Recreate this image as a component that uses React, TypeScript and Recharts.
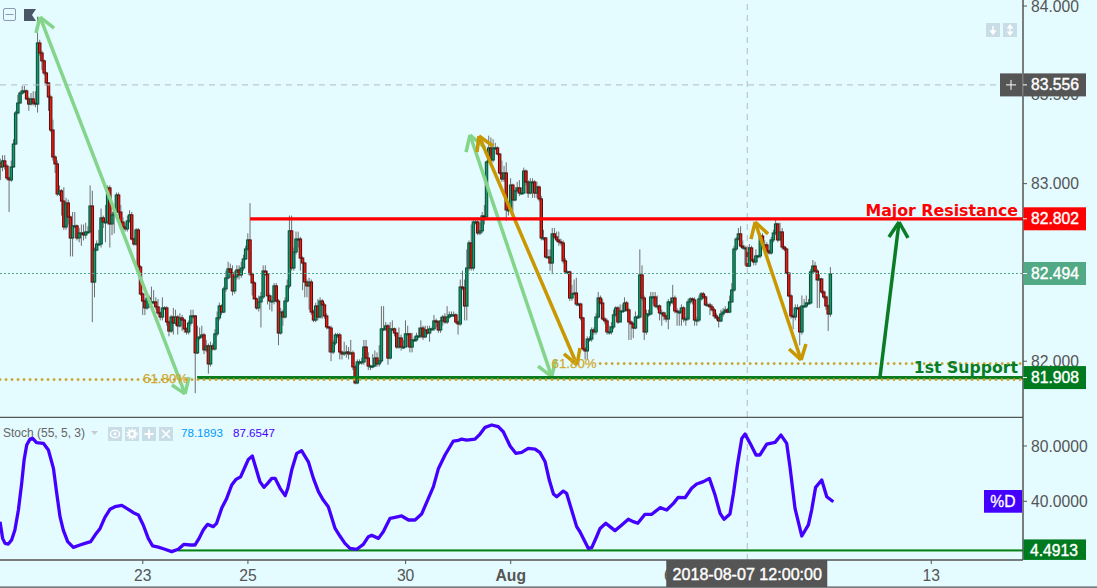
import React from "react";
import { ComposedChart, Bar, Line, XAxis, YAxis, ReferenceLine } from "recharts";

// Hourly trading bars, index 0 is the first visible hour.
const firstOpen = 83.116;
const closes = [
83.094,83.128,83.099,83.032,83.021,83.094,83.223,83.398,83.454,83.510,83.522,83.522,83.477,83.448,83.477,83.454,83.448,83.792,83.736,83.691,
83.623,83.567,83.488,83.302,83.150,83.111,82.942,82.959,82.902,82.756,82.891,82.812,82.694,82.762,82.762,82.694,82.722,82.722,82.711,82.728,
82.728,82.874,82.446,82.626,82.660,82.660,82.807,82.784,82.784,82.976,82.773,82.824,82.840,82.936,82.840,82.784,82.756,82.745,82.790,82.824,
82.688,82.660,82.739,82.531,82.379,82.339,82.300,82.356,82.334,82.334,82.334,82.306,82.272,82.249,82.300,82.300,82.221,82.170,82.249,82.215,
82.249,82.199,82.244,82.232,82.182,82.165,82.215,82.255,82.255,82.047,82.131,82.137,82.148,82.064,82.086,81.985,82.086,82.069,82.154,82.244,
82.311,82.277,82.407,82.469,82.520,82.497,82.396,82.475,82.514,82.486,82.525,82.576,82.632,82.683,82.491,82.441,82.351,82.300,82.334,82.362,
82.508,82.491,82.368,82.339,82.339,82.424,82.339,82.159,82.277,82.249,82.339,82.424,82.734,82.525,82.615,82.688,82.688,82.581,82.553,82.446,
82.424,82.446,82.277,82.232,82.311,82.249,82.339,82.317,82.255,82.193,82.187,82.052,82.103,82.148,82.148,82.052,82.041,82.047,82.052,82.041,
82.047,81.968,81.878,81.996,81.996,81.996,82.080,82.018,81.973,81.973,81.973,82.018,81.985,82.002,82.182,82.182,82.199,82.018,82.182,82.182,
82.159,82.080,82.131,82.080,82.080,82.154,82.154,82.080,82.120,82.120,82.142,82.142,82.187,82.137,82.176,82.159,82.182,82.182,82.227,82.221,
82.176,82.227,82.249,82.221,82.249,82.261,82.261,82.261,82.221,82.210,82.418,82.413,82.311,82.525,82.666,82.525,82.784,82.784,82.722,82.734,
82.818,82.812,83.122,83.201,83.133,83.201,83.201,83.167,83.060,83.026,83.060,82.852,82.852,82.992,82.908,82.959,82.976,82.947,82.947,83.071,
83.009,82.947,83.009,83.009,82.947,82.981,82.914,82.694,82.694,82.587,82.587,82.553,82.717,82.700,82.683,82.672,82.666,82.565,82.503,82.503,
82.356,82.379,82.384,82.322,82.322,82.244,82.069,82.058,82.125,82.125,82.176,82.165,82.249,82.356,82.328,82.238,82.227,82.165,82.165,82.193,
82.261,82.300,82.221,82.283,82.283,82.328,82.289,82.221,82.210,82.187,82.249,82.249,82.486,82.356,82.165,82.266,82.266,82.362,82.362,82.311,
82.311,82.272,82.272,82.255,82.238,82.334,82.334,82.356,82.283,82.277,82.277,82.300,82.238,82.238,82.334,82.351,82.345,82.232,82.232,82.351,
82.379,82.362,82.317,82.317,82.306,82.289,82.255,82.244,82.227,82.266,82.277,82.289,82.277,82.334,82.401,82.632,82.688,82.717,82.649,82.638,
82.638,82.536,82.638,82.570,82.559,82.593,82.593,82.705,82.655,82.655,82.621,82.610,82.683,82.722,82.773,82.683,82.728,82.643,82.632,82.497,
82.368,82.255,82.249,82.300,82.300,82.165,82.311,82.311,82.328,82.328,82.503,82.536,82.508,82.458,82.463,82.390,82.362,82.311,82.266,82.491,
];
const highs = [
83.14,83.16,83.16,83.11,83.04,83.13,83.25,83.41,83.50,83.52,83.55,83.55,83.53,83.49,83.51,83.52,83.52,83.94,83.81,83.75,
83.70,83.63,83.57,83.50,83.36,83.16,83.13,82.99,82.97,82.98,82.92,82.91,82.82,82.84,82.84,82.77,82.75,82.77,82.77,82.78,
82.76,82.99,82.96,82.64,82.68,82.74,82.86,82.82,82.88,82.99,82.99,82.84,82.86,82.95,82.95,82.88,82.81,82.78,82.82,82.85,
82.84,82.70,82.75,82.75,82.54,82.39,82.35,82.37,82.37,82.42,82.40,82.36,82.35,82.28,82.36,82.31,82.31,82.23,82.26,82.30,
82.29,82.26,82.27,82.26,82.24,82.19,82.23,82.29,82.29,82.26,82.20,82.19,82.20,82.16,82.12,82.10,82.11,82.10,82.18,82.28,
82.33,82.32,82.42,82.51,82.56,82.55,82.54,82.51,82.54,82.54,82.56,82.60,82.65,82.72,82.89,82.50,82.45,82.36,82.37,82.39,
82.54,82.54,82.51,82.38,82.37,82.44,82.44,82.35,82.30,82.29,82.36,82.46,82.82,82.82,82.64,82.73,82.73,82.70,82.59,82.56,
82.46,82.47,82.46,82.29,82.33,82.35,82.36,82.35,82.33,82.27,82.20,82.20,82.12,82.16,82.16,82.16,82.06,82.11,82.09,82.08,
82.12,82.06,81.98,82.01,82.01,82.02,82.12,82.12,82.05,81.98,82.04,82.06,82.05,82.09,82.31,82.31,82.22,82.21,82.22,82.23,
82.19,82.16,82.19,82.15,82.12,82.23,82.20,82.16,82.16,82.14,82.16,82.19,82.23,82.20,82.20,82.20,82.20,82.19,82.26,82.24,
82.23,82.25,82.26,82.27,82.31,82.28,82.28,82.28,82.27,82.23,82.46,82.51,82.46,82.63,82.68,82.77,82.80,82.80,82.81,82.78,
82.84,82.88,83.13,83.27,83.26,83.25,83.23,83.21,83.17,83.13,83.10,83.12,82.88,83.03,83.00,82.98,83.01,83.02,82.98,83.09,
83.08,83.02,83.03,83.03,83.02,83.01,82.99,82.93,82.74,82.70,82.63,82.63,82.75,82.75,82.73,82.73,82.69,82.68,82.58,82.51,
82.51,82.43,82.46,82.47,82.33,82.33,82.25,82.08,82.14,82.14,82.19,82.19,82.27,82.39,82.37,82.35,82.25,82.24,82.20,82.22,
82.29,82.31,82.31,82.32,82.32,82.36,82.34,82.30,82.23,82.22,82.28,82.26,82.63,82.54,82.37,82.29,82.29,82.39,82.39,82.39,
82.37,82.32,82.29,82.28,82.26,82.35,82.36,82.43,82.37,82.30,82.29,82.32,82.31,82.25,82.35,82.36,82.36,82.36,82.25,82.37,
82.39,82.39,82.37,82.33,82.33,82.32,82.30,82.27,82.25,82.29,82.30,82.31,82.30,82.37,82.44,82.65,82.70,82.75,82.76,82.68,
82.65,82.65,82.66,82.65,82.58,82.63,82.60,82.72,82.72,82.68,82.67,82.63,82.70,82.74,82.80,82.78,82.78,82.75,82.65,82.64,
82.50,82.38,82.27,82.32,82.32,82.31,82.37,82.35,82.37,82.35,82.52,82.57,82.56,82.52,82.49,82.47,82.40,82.37,82.32,82.53,
];
const lows = [
83.02,83.07,83.08,83.02,82.84,83.01,83.09,83.22,83.39,83.45,83.50,83.51,83.47,83.41,83.44,83.44,83.43,83.40,83.72,83.64,
83.61,83.55,83.41,83.29,83.13,83.06,82.93,82.93,82.82,82.74,82.74,82.77,82.59,82.59,82.75,82.68,82.67,82.65,82.68,82.69,
82.72,82.73,82.22,82.36,82.62,82.65,82.64,82.75,82.67,82.77,82.64,82.71,82.72,82.83,82.82,82.77,82.74,82.73,82.73,82.78,
82.68,82.65,82.65,82.51,82.37,82.26,82.26,82.29,82.30,82.32,82.32,82.29,82.26,82.23,82.23,82.29,82.20,82.14,82.16,82.15,
82.20,82.15,82.19,82.17,82.16,82.15,82.15,82.20,82.24,81.82,82.04,82.12,82.13,82.04,82.05,81.93,81.97,82.06,82.06,82.14,
82.23,82.26,82.27,82.39,82.46,82.47,82.37,82.38,82.46,82.46,82.47,82.51,82.57,82.62,82.48,82.37,82.35,82.29,82.28,82.19,
82.35,82.48,82.32,82.29,82.28,82.32,82.33,82.09,82.15,82.20,82.24,82.33,82.41,82.51,82.51,82.60,82.64,82.51,82.40,82.36,
82.36,82.29,82.26,82.22,82.22,82.23,82.24,82.24,82.24,82.18,82.05,82.00,82.04,82.09,82.13,82.01,82.01,82.03,82.02,82.01,
82.04,81.95,81.87,81.87,81.98,81.98,81.98,82.01,81.95,81.95,81.96,81.97,81.97,81.97,81.99,82.17,82.17,81.98,82.01,82.17,
82.14,82.07,82.07,82.06,82.07,82.08,82.08,82.05,82.05,82.11,82.11,82.13,82.13,82.12,82.13,82.15,82.11,82.17,82.17,82.19,
82.16,82.16,82.20,82.21,82.21,82.24,82.25,82.25,82.21,82.15,82.20,82.40,82.23,82.23,82.51,82.51,82.51,82.77,82.71,82.71,
82.72,82.77,82.81,83.12,83.12,83.12,83.19,83.16,83.05,83.01,83.01,82.79,82.82,82.84,82.82,82.90,82.95,82.93,82.94,82.94,
82.99,82.92,82.94,82.92,82.92,82.92,82.90,82.68,82.68,82.58,82.58,82.51,82.49,82.69,82.67,82.65,82.65,82.55,82.49,82.49,
82.34,82.34,82.37,82.31,82.31,82.23,82.06,82.01,82.01,82.11,82.11,82.15,82.15,82.24,82.32,82.23,82.21,82.15,82.15,82.15,
82.18,82.25,82.21,82.22,82.28,82.28,82.28,82.12,82.12,82.13,82.18,82.24,82.24,82.34,82.12,82.15,82.25,82.26,82.32,82.30,
82.29,82.23,82.20,82.23,82.22,82.18,82.31,82.32,82.27,82.20,82.20,82.20,82.22,82.20,82.23,82.32,82.32,82.20,82.20,82.22,
82.34,82.35,82.31,82.31,82.26,82.28,82.24,82.23,82.19,82.22,82.25,82.27,82.27,82.27,82.33,82.39,82.62,82.68,82.64,82.63,
82.54,82.53,82.53,82.56,82.54,82.54,82.58,82.58,82.64,82.64,82.61,82.60,82.60,82.67,82.71,82.67,82.68,82.63,82.62,82.49,
82.36,82.24,82.18,82.23,82.29,82.09,82.15,82.30,82.30,82.32,82.32,82.49,82.50,82.30,82.30,82.38,82.35,82.29,82.17,82.25,
];

const stochHours = [
-0.2,1.0,2.1,3.6,5.1,6.6,8.2,9.7,10.8,12.0,13.5,14.7,16.5,19.6,21.9,24.2,25.7,27.2,28.7,30.7,
33.3,36.3,38.6,41.2,43.2,45.5,47.7,50.0,52.3,55.4,58.4,60.7,63.0,65.2,67.5,69.5,72.1,74.4,78.2,81.2,
83.8,86.6,88.8,90.7,92.6,94.5,97.2,98.7,101.0,103.3,105.6,107.6,109.7,111.7,113.2,115.0,116.7,118.5,120.3,122.0,
123.9,125.4,127.7,130.0,131.2,133.0,135.3,137.5,140.6,142.9,145.2,147.4,149.7,152.8,155.0,157.3,159.6,162.7,165.7,168.0,
169.5,172.6,174.8,177.9,180.2,183.2,186.3,189.3,192.3,195.4,197.7,200.0,203.0,206.8,209.1,210.6,212.9,216.7,219.0,221.3,
224.3,227.3,229.6,232.7,235.3,238.0,241.0,244.1,246.4,248.7,250.6,252.5,254.0,257.0,258.5,260.8,263.1,264.6,268.4,270.0,
272.2,273.8,276.4,278.3,280.6,283.7,286.7,289.0,291.0,294.3,297.4,301.2,304.2,307.3,309.5,312.6,315.6,317.9,321.0,323.7,
326.3,328.6,330.4,333.1,334.7,336.5,338.5,340.0,342.3,345.0,346.8,349.9,353.7,356.4,359.0,360.5,362.8,365.9,368.9,370.4,
372.2,375.0,377.3,380.3,
];
const stochValues = [
25.3,13.2,9.6,9.1,12.0,19.2,33.7,53.0,69.9,80.7,85.0,85.5,82.4,81.9,77.1,63.8,45.8,28.9,19.2,10.8,
6.7,8.4,9.6,10.8,15.6,20.4,28.4,34.2,36.1,37.1,34.2,31.8,30.1,22.9,13.2,7.7,6.9,5.7,3.6,5.3,
8.9,8.4,8.4,13.2,19.2,23.3,21.7,24.1,34.9,42.1,51.8,55.9,57.8,65.0,70.3,72.7,63.8,54.2,50.1,53.0,
56.6,56.6,49.4,44.1,49.4,62.6,74.7,76.6,68.6,56.6,47.0,40.9,36.1,20.4,14.9,9.6,6.0,5.3,8.9,14.4,
15.4,13.2,18.0,27.7,28.4,29.4,26.5,26.5,30.8,42.1,50.6,63.8,73.5,83.6,84.1,85.0,84.3,85.0,88.6,93.5,
95.2,94.0,90.3,80.0,74.7,75.4,78.3,77.8,75.2,68.6,55.4,45.3,43.3,47.4,45.8,33.7,21.7,18.0,6.0,6.5,
14.4,20.4,24.1,21.7,18.8,22.9,27.0,25.3,24.1,30.6,30.6,35.4,33.7,38.5,42.9,42.6,49.4,52.5,54.2,56.6,
44.5,31.3,27.0,30.8,45.8,66.2,85.5,88.6,81.9,73.5,73.5,81.4,82.6,87.9,81.9,65.0,34.9,14.9,22.9,33.7,
50.1,55.4,43.3,39.7,
];

const hourTicks = [65, 113, 185, 233, 305, 425, 341];
const hourLabels = ["23", "25", "30", "Aug", "6", "13", "2018-08-07 12:00:00"];
const priceTicks = [84, 83.5, 83, 82.5, 82, 82.494, 83.556, 82.802, 81.908];
const stochTicks = [80, 40, 4.4913];

const resistance = 82.802;
const support = 81.908;
const lastPrice = 82.494;
const crossPrice = 83.556;
const crossHour = 341;
const stochFloor = 4.4913;
const lowerFib = 81.897;
const upperFib = 81.987;

type P = [number, number];
// [tip A, barb, barb, tip B, barb, barb] as [hour, price]
const lightArrows: P[][] = [
  [[18.1, 83.938], [16.2, 83.848], [24.5, 83.876], [84.3, 81.816], [78.3, 81.866], [86.1, 81.911]],
  [[214.4, 83.274], [212.6, 83.178], [221.3, 83.201], [251.7, 81.913], [245.5, 81.973], [253.5, 82.007]],
];
const goldArrows: P[][] = [
  [[218.5, 83.268], [217.6, 83.178], [224.9, 83.212], [263.3, 81.979], [257.3, 82.041], [264.6, 82.075]],
  [[344.6, 82.784], [342.7, 82.688], [350.5, 82.717], [365.6, 82.007], [360.1, 82.069], [367.8, 82.097]],
];
const targetArrow: P[] = [[401.6, 81.911], [410.3, 82.784], [405.7, 82.7], [414.4, 82.694]];

const candleRows = closes.map((c, i) => ({
  idx: i,
  open: i === 0 ? firstOpen : closes[i - 1],
  close: c,
  range: [lows[i] ?? c, highs[i] ?? c],
}));
const stochRows = stochHours.map((h, i) => ({ idx: h, d: stochValues[i] }));

const INK = "#555";
const BG = "#e4fbff";
const SANS = "'Liberation Sans', Arial, sans-serif";
const AXIS_X = 1023;
const LAST_COL = "#52a986";
const GREEN = "#007a1f";
const PURPLE = "#4400ff";
const GOLD = "#c99700";
const LIGHT = "#84d48a";
const HOUR_DOMAIN: [number, number] = [-0.2, 466.9];
const ARROW_W = 3.5;

function Candle(props: any) {
  const { x, y, width, height, payload } = props;
  const [lo, hi] = payload.range;
  const top = Math.min(y, y + height);
  const h = Math.abs(height);
  const k = hi === lo ? 0 : h / (hi - lo);
  const yOf = (v: number) => top + (hi - v) * k;
  const cx = x + width / 2;
  const up = payload.close >= payload.open;
  const a = yOf(Math.max(payload.open, payload.close));
  const b = yOf(Math.min(payload.open, payload.close));
  return (
    <g>
      <line x1={cx} x2={cx} y1={top} y2={top + h} stroke="#6f6f6f" strokeWidth={1} />
      <rect
        x={cx - 1.2}
        y={a}
        width={2.4}
        height={Math.max(b - a, 1)}
        fill={up ? "#149a6c" : "#ee1c10"}
        stroke={up ? "#0a4f38" : "#5c0e0e"}
        strokeWidth={1.05}
      />
    </g>
  );
}

function Tag({ y, text, fill }: { y: number; text: string; fill: string }) {
  return (
    <g>
      <rect x={AXIS_X + 0.5} y={y - 11.5} width={62.5} height={23} fill={fill} />
      <line x1={AXIS_X} x2={AXIS_X + 4} y1={y} y2={y} stroke="#fff" strokeWidth={1} />
      <text x={AXIS_X + 8} y={y + 5.6} fontSize={15.7} fontFamily={SANS} fill="#fff" stroke="#fff" strokeWidth={0.4}>
        {text}
      </text>
    </g>
  );
}

function PriceTick(props: any) {
  const { y, payload } = props;
  const v = payload.value;
  if (v === resistance) return <Tag y={y} text="82.802" fill="#ff0000" />;
  if (v === support) return <Tag y={y} text="81.908" fill={GREEN} />;
  if (v === lastPrice) return <Tag y={y} text="82.494" fill={LAST_COL} />;
  if (v === crossPrice)
    return (
      <g>
        <rect x={AXIS_X - 23} y={y - 11.5} width={22} height={23} fill={INK} />
        <path d={`M${AXIS_X - 17} ${y}h10M${AXIS_X - 12} ${y - 5}v10`} stroke="#fff" strokeWidth={1} />
        <Tag y={y} text="83.556" fill={INK} />
      </g>
    );
  return (
    <g>
      <line x1={AXIS_X} x2={AXIS_X + 4} y1={y} y2={y} stroke={INK} strokeWidth={1} />
      <text x={AXIS_X + 8} y={y + 5.6} fontSize={15.7} fontFamily={SANS} fill={INK}>
        {v.toFixed(3)}
      </text>
    </g>
  );
}

function StochTick(props: any) {
  const { y, payload } = props;
  const v = payload.value;
  if (v === stochFloor)
    return (
      <g>
        <rect x={AXIS_X + 0.5} y={y - 11} width={62.5} height={20.5} fill={GREEN} />
        <text x={AXIS_X + 7} y={y + 5.6} fontSize={15.7} fontFamily={SANS} fill="#fff" stroke="#fff" strokeWidth={0.4}>
          4.4913
        </text>
      </g>
    );
  return (
    <g>
      {v === 40 && (
        <g>
          <rect x={AXIS_X - 39} y={y - 11.3} width={38} height={22.7} fill={PURPLE} />
          <text x={AXIS_X - 20} y={y + 5.5} textAnchor="middle" fontSize={15.7} fontFamily={SANS} fill="#fff" stroke="#fff" strokeWidth={0.3}>
            %D
          </text>
        </g>
      )}
      <line x1={AXIS_X} x2={AXIS_X + 4} y1={y} y2={y} stroke={INK} strokeWidth={1} />
      <text x={AXIS_X + 8} y={y + 5.6} fontSize={15.7} fontFamily={SANS} fill={INK}>
        {v.toFixed(4)}
      </text>
    </g>
  );
}

function HourTick(props: any) {
  const { x, payload } = props;
  const i = hourTicks.indexOf(payload.value);
  const label = hourLabels[i];
  const top = 143;
  if (payload.value === crossHour)
    return (
      <g>
        <rect x={x - 81} y={top} width={161} height={27} fill={INK} />
        <text x={x} y={top + 20} textAnchor="middle" fontSize={16.1} fontFamily={SANS} fill="#fff" stroke="#fff" strokeWidth={0.4}>
          {label}
        </text>
      </g>
    );
  return (
    <g>
      <line x1={x} x2={x} y1={top} y2={top + 4} stroke={INK} strokeWidth={1} />
      <text
        x={x}
        y={top + 21}
        textAnchor="middle"
        fontSize={15.7}
        fontFamily={SANS}
        fontWeight={label === "Aug" ? 700 : 400}
        fill={INK}
      >
        {label}
      </text>
    </g>
  );
}

function seg(a: P, b: P, color: string, w: number, key: string) {
  return (
    <ReferenceLine
      key={key}
      segment={[
        { x: a[0], y: a[1] },
        { x: b[0], y: b[1] },
      ]}
      stroke={color}
      strokeWidth={w}
      ifOverflow="visible"
    />
  );
}

function doubleArrow(pts: P[], color: string, key: string) {
  const [t, b1, b2, u, c1, c2] = pts;
  return [
    seg(t, u, color, ARROW_W, key + "m"),
    seg(t, b1, color, ARROW_W, key + "a"),
    seg(t, b2, color, ARROW_W, key + "b"),
    seg(u, c1, color, ARROW_W, key + "c"),
    seg(u, c2, color, ARROW_W, key + "d"),
  ];
}

function IconBox({ x, y, children }: { x: number; y: number; children?: React.ReactNode }) {
  return (
    <g transform={`translate(${x} ${y})`}>
      <rect width={14} height={14} fill="#c8dde6" />
      {children}
    </g>
  );
}

export default function App() {
  return (
    <div style={{ position: "absolute", left: 0, top: 0, width: 1097, height: 588, background: BG, overflow: "hidden" }}>
      <div style={{ position: "absolute", left: 0, top: 0 }}>
        <ComposedChart width={1097} height={417} data={candleRows} margin={{ top: 0, right: 0, bottom: 0, left: 0 }}>
          <XAxis dataKey="idx" type="number" domain={HOUR_DOMAIN} allowDataOverflow hide height={0} />
          <YAxis
            orientation="right"
            width={74}
            type="number"
            domain={[81.686, 84.034]}
            allowDataOverflow
            ticks={priceTicks}
            interval={0}
            tick={PriceTick}
            tickLine={false}
            axisLine={{ stroke: INK, strokeWidth: 1.5 }}
          />
          <ReferenceLine segment={[{ x: -0.2, y: crossPrice }, { x: 457, y: crossPrice }]} stroke="#b4bcc2" strokeDasharray="6 5" strokeWidth={1} />
          <ReferenceLine segment={[{ x: -0.2, y: lastPrice }, { x: 466.9, y: lastPrice }]} stroke={LAST_COL} strokeDasharray="2 2" strokeWidth={1} />
          <ReferenceLine x={crossHour} stroke="#b4bcc2" strokeDasharray="6 5" strokeWidth={1} />
          {doubleArrow(lightArrows[0], LIGHT, "l0")}
          {doubleArrow(lightArrows[1], LIGHT, "l1")}
          <Bar dataKey="range" barSize={3} shape={Candle} isAnimationActive={false} />
          {doubleArrow(goldArrows[0], GOLD, "g0")}
          {doubleArrow(goldArrows[1], GOLD, "g1")}
          <ReferenceLine segment={[{ x: 114, y: resistance }, { x: 466.9, y: resistance }]} stroke="#ff0000" strokeWidth={3.2} />
          <ReferenceLine segment={[{ x: 89.8, y: support }, { x: 466.9, y: support }]} stroke="#0a7d20" strokeWidth={3.2} />
          <ReferenceLine
            segment={[{ x: -0.2, y: lowerFib }, { x: 466.9, y: lowerFib }]}
            stroke="#c9a227"
            strokeWidth={2.8}
            strokeLinecap="round"
            strokeDasharray="0.1 5.9"
          />
          <ReferenceLine
            segment={[{ x: 273.8, y: upperFib }, { x: 466.9, y: upperFib }]}
            stroke="#c9a227"
            strokeWidth={2.8}
            strokeLinecap="round"
            strokeDasharray="0.1 5.9"
          />
          {seg(targetArrow[0], targetArrow[1], "#0a7d24", ARROW_W, "t0")}
          {seg(targetArrow[1], targetArrow[2], "#0a7d24", ARROW_W, "t1")}
          {seg(targetArrow[1], targetArrow[3], "#0a7d24", ARROW_W, "t2")}
        </ComposedChart>
      </div>

      <div style={{ position: "absolute", left: 0, top: 417 }}>
        <ComposedChart width={1097} height={170} data={stochRows} margin={{ top: 0, right: 0, bottom: 0, left: 0 }}>
          <XAxis
            dataKey="idx"
            type="number"
            domain={HOUR_DOMAIN}
            allowDataOverflow
            height={27}
            ticks={hourTicks}
            interval={0}
            tick={HourTick}
            tickLine={false}
            axisLine={{ stroke: INK, strokeWidth: 1.5 }}
          />
          <YAxis
            orientation="right"
            width={74}
            type="number"
            domain={[-2.44, 100.97]}
            allowDataOverflow
            ticks={stochTicks}
            interval={0}
            tick={StochTick}
            tickLine={false}
            axisLine={{ stroke: INK, strokeWidth: 1.5 }}
          />
          <ReferenceLine x={crossHour} stroke="#b4bcc2" strokeDasharray="6 5" strokeWidth={1} />
          <ReferenceLine segment={[{ x: 81, y: stochFloor }, { x: 466.9, y: stochFloor }]} stroke="#7cc88a" strokeWidth={3} />
          <ReferenceLine segment={[{ x: 81, y: stochFloor }, { x: 466.9, y: stochFloor }]} stroke="#0a7d20" strokeWidth={1.4} />
          <Line dataKey="d" type="linear" stroke={PURPLE} strokeWidth={3.3} strokeLinejoin="round" dot={false} isAnimationActive={false} />
        </ComposedChart>
      </div>

      <svg width={1097} height={588} style={{ position: "absolute", left: 0, top: 0, pointerEvents: "none" }}>
        <line x1={0} x2={AXIS_X} y1={417.3} y2={417.3} stroke={INK} strokeWidth={1.3} />
        <line x1={0} x2={1097} y1={587.2} y2={587.2} stroke={INK} strokeWidth={1.3} />

        <rect x={3.5} y={8.5} width={12} height={12} rx={1.5} fill="none" stroke="#8a9bb0" strokeWidth={1} />
        <line x1={5.5} x2={13.5} y1={14.5} y2={14.5} stroke="#8a9bb0" strokeWidth={1} />
        <path d="M24 9H36L32 15L36 21H24Z" fill="#4a5568" />

        <IconBox x={986} y={23}>
          <path d="M7 3V10M4.8 8L7 11L9.2 8Z" stroke="#fff" strokeWidth={1.4} fill="#fff" />
        </IconBox>
        <IconBox x={1003} y={23}>
          <path d="M7 4V10M4.8 5L7 2L9.2 5ZM4.8 9L7 12L9.2 9Z" stroke="#fff" strokeWidth={1.2} fill="#fff" />
        </IconBox>

        <text x={143} y={382.5} fontSize={13.3} fontFamily={SANS} fill="#cfa92c" stroke="#cfa92c" strokeWidth={0.25}>61.80%</text>
        <text x={551.5} y={368} fontSize={13.3} fontFamily={SANS} fill="#cfa92c" stroke="#cfa92c" strokeWidth={0.25}>61.80%</text>

        <text x={1018} y={216} textAnchor="end" fontSize={15.8} fontWeight={700} fontFamily="'DejaVu Sans', sans-serif" fill="#ff0000">
          Major Resistance
        </text>
        <text x={1018} y={373} textAnchor="end" fontSize={15.7} fontWeight={700} fontFamily="'DejaVu Sans', sans-serif" fill="#0a7d24">
          1st Support
        </text>

        <text x={3} y={437} fontSize={12} fontFamily={SANS} fill="#666">Stoch (55, 5, 3)</text>
        <path d="M91 431H98L94.5 435Z" fill="#ccc" />
        <IconBox x={108} y={427}>
          <ellipse cx={7} cy={7} rx={4.6} ry={3.6} fill="none" stroke="#fff" strokeWidth={1.3} />
          <circle cx={7} cy={7} r={1.4} fill="#fff" />
        </IconBox>
        <IconBox x={125} y={427}>
          <circle cx={7} cy={7} r={3} fill="none" stroke="#fff" strokeWidth={2.2} />
          <circle cx={7} cy={7} r={5} fill="none" stroke="#fff" strokeWidth={1.4} strokeDasharray="1.6 1.6" />
        </IconBox>
        <IconBox x={142} y={427}>
          <path d="M7 2.5V11.5M2.5 7H11.5" stroke="#fff" strokeWidth={2} />
        </IconBox>
        <IconBox x={159} y={427}>
          <path d="M3 3L11 11M11 3L3 11" stroke="#fff" strokeWidth={1.6} />
        </IconBox>
        <text x={181} y={437} fontSize={11.6} fontFamily={SANS} fill="#0099ff">78.1893</text>
        <text x={233} y={437} fontSize={11.6} fontFamily={SANS} fill={PURPLE}>87.6547</text>
      </svg>
    </div>
  );
}
